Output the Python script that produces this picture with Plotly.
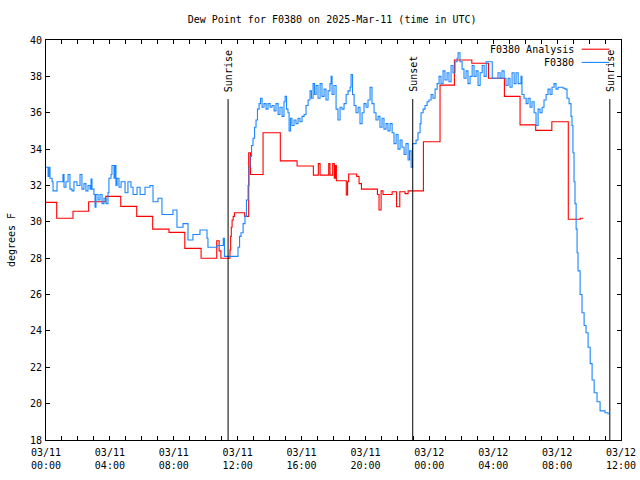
import pandas as pd
import plotly.graph_objects as go

BASE = pd.Timestamp("2025-03-11 00:00")

# ---- data (hours after 2025-03-11 00:00 UTC, dew point in F) ----
analysis_hours = [0, 0.67, 1.69, 2.67, 3.74, 4.68, 5.68, 6.68, 7.7, 8.69, 9.71, 10.69, 10.84, 10.95,
                  11.52, 11.56, 11.6, 11.65, 11.72, 11.8, 12.44, 12.69, 12.8, 13.59, 14.67, 15.72,
                  16.74, 17.05, 17.16, 17.7, 17.78, 17.95, 18.05, 18.12, 18.18, 18.8, 18.88, 18.95,
                  19.45, 19.6, 19.75, 20.75, 20.85, 20.98, 21.1, 21.67, 21.95, 22.15, 22.48, 22.67,
                  23.63, 24.67, 25.57, 26.66, 27.7, 28.7, 29.68, 30.66, 31.67, 32.7, 33.35, 33.45, 33.64]
analysis_values = [31.07, 30.2, 30.58, 31.1, 31.4, 30.85, 30.3, 29.6, 29.42, 28.54, 28.0, 28.96, 28.4, 28.0,
                   28.45, 29.2, 29.7, 30.1, 30.3, 30.5, 30.3, 33.8, 32.6, 34.9, 33.35, 33.07,
                   32.57, 33.2, 32.57, 33.2, 32.57, 33.2, 32.4, 33.1, 32.26, 31.48, 32.2, 32.63,
                   32.5, 32.1, 31.8, 31.5, 30.65, 31.7, 31.5, 31.65, 30.83, 31.65, 31.55, 31.7,
                   34.4, 37.52, 38.9, 38.72, 37.9, 36.9, 35.33, 35.03, 35.5, 30.14, 30.14, 30.2, 30.2]

obs_hours = [0.0, 0.06, 0.13, 0.19, 0.25, 0.38, 0.44, 0.69, 1.0, 1.06, 1.13, 1.25, 1.38, 1.5, 1.63,
             1.75, 1.94, 2.13, 2.25, 2.38, 2.5, 2.63, 2.76, 2.82, 2.88, 3.0, 3.07, 3.13, 3.26, 3.38,
             3.51, 3.63, 3.76, 3.88, 3.94, 4.07, 4.13, 4.26, 4.32, 4.38, 4.45, 4.57, 4.7, 4.95, 5.13,
             5.32, 5.45, 5.7, 5.89, 6.2, 6.51, 6.7, 7.01, 7.26, 7.95, 8.2, 8.58, 8.89, 9.2, 9.64,
             10.08, 10.14, 10.71, 11.1, 11.17, 11.99, 12.02, 12.12, 12.21, 12.34, 12.46, 12.55, 12.65,
             12.71, 12.77, 12.87, 12.96, 13.06, 13.15, 13.24, 13.34, 13.43, 13.53, 13.65, 13.78, 13.9,
             14.03, 14.15, 14.28, 14.4, 14.53, 14.65, 14.78, 14.9, 14.97, 15.06, 15.15, 15.22, 15.31,
             15.4, 15.53, 15.65, 15.78, 15.9, 16.03, 16.16, 16.28, 16.41, 16.53, 16.62, 16.72, 16.81,
             16.91, 17.03, 17.16, 17.28, 17.41, 17.53, 17.66, 17.78, 17.85, 17.91, 18.03, 18.16, 18.28,
             18.41, 18.53, 18.66, 18.79, 18.91, 19.04, 19.1, 19.19, 19.29, 19.41, 19.54, 19.66, 19.79,
             19.91, 20.04, 20.16, 20.29, 20.41, 20.54, 20.66, 20.79, 20.91, 21.04, 21.16, 21.29, 21.41,
             21.54, 21.67, 21.79, 21.92, 22.04, 22.17, 22.29, 22.42, 22.54, 22.67, 22.76, 22.86, 22.95,
             23.04, 23.17, 23.29, 23.42, 23.48, 23.61, 23.73, 23.86, 23.98, 24.11, 24.23, 24.36, 24.49,
             24.61, 24.73, 24.86, 24.98, 25.11, 25.23, 25.36, 25.48, 25.61, 25.74, 25.8, 25.92, 26.05,
             26.17, 26.3, 26.42, 26.55, 26.68, 26.8, 26.93, 27.05, 27.18, 27.31, 27.43, 27.56, 27.81,
             27.94, 28.18, 28.3, 28.43, 28.55, 28.68, 28.8, 28.93, 29.05, 29.18, 29.31, 29.43, 29.56,
             29.68, 29.74, 29.8, 29.93, 30.06, 30.18, 30.31, 30.43, 30.56, 30.68, 30.81, 30.93, 31.06,
             31.18, 31.31, 31.43, 31.56, 31.68, 31.81, 31.93, 32.06, 32.37, 32.5, 32.62, 32.75, 32.87,
             32.93, 32.99, 33.06, 33.12, 33.19, 33.25, 33.31, 33.44, 33.56, 33.69, 33.81, 33.94, 34.07,
             34.19, 34.32, 34.5, 34.69, 35.0, 35.19]
obs_values = [33.0, 33.0, 32.5, 33.0, 32.4, 32.2, 31.7, 32.2, 32.2, 32.6, 31.9, 32.2, 32.6, 31.8, 31.7,
              32.2, 32.0, 32.6, 31.8, 32.1, 31.7, 32.0, 31.8, 32.35, 31.8, 31.5, 30.8, 31.5, 31.2, 31.5,
              31.0, 31.3, 31.0, 31.6, 32.4, 32.6, 33.1, 32.4, 33.1, 32.0, 32.4, 31.9, 32.2, 31.6, 32.2,
              31.9, 31.5, 31.9, 31.5, 31.9, 32.0, 31.1, 31.3, 30.4, 30.65, 29.7, 29.9, 29.0, 29.3, 29.55,
              29.1, 28.6, 28.7, 29.1, 28.1, 28.1, 28.6, 29.2, 29.4, 29.9, 30.3, 31.2, 32.0,
              33.0, 33.6, 34.2, 34.6, 35.2, 35.6, 36.2, 36.5, 36.8, 36.3, 36.5, 36.2, 36.5,
              36.3, 36.4, 36.1, 36.5, 35.9, 36.3, 35.8, 36.6, 36.9, 36.2, 36.0, 35.0, 35.7,
              35.3, 35.6, 35.4, 35.7, 35.5, 35.8, 35.9, 36.4, 36.7, 37.2, 36.8, 37.6, 37.0,
              37.5, 36.8, 37.6, 36.9, 37.3, 36.7, 37.2, 37.6, 38.0, 37.0, 37.5, 36.2, 35.6,
              36.3, 36.2, 36.5, 37.0, 37.2, 37.4, 38.1, 37.0, 36.4, 36.0, 36.3, 35.4, 36.0,
              36.5, 36.3, 36.7, 37.4, 36.5, 36.0, 35.6, 35.8, 35.2, 35.7, 35.1, 35.4, 35.0,
              35.4, 34.9, 34.3, 34.8, 34.0, 34.5, 34.1, 33.7, 34.3, 33.4, 33.9, 33.0, 34.3,
              34.3, 34.5, 34.9, 35.4, 36.0, 36.2, 36.4, 36.6, 36.7, 37.0, 36.8, 37.3, 37.6,
              38.0, 37.6, 38.3, 37.8, 38.2, 37.7, 38.6, 38.2, 38.8, 39.0, 39.3, 38.8, 38.4,
              37.9, 38.3, 37.6, 38.0, 38.6, 38.0, 38.3, 37.5, 38.2, 38.6, 38.0, 38.8, 38.8,
              37.9, 37.9, 38.2, 37.9, 38.3, 37.9, 37.5, 37.9, 37.4, 38.2, 37.6, 38.2, 37.6,
              37.6, 38.0, 37.0, 36.8, 36.5, 36.8, 36.3, 36.6, 36.0, 35.3, 36.2, 36.0, 36.3,
              36.7, 37.0, 37.3, 37.0, 37.4, 37.6, 37.3, 37.4, 37.35, 37.3, 36.8, 36.5, 35.8,
              35.3, 33.8, 32.2, 31.0, 29.6, 28.3, 27.3, 26.0, 25.0, 24.3, 23.9, 23.1, 22.2,
              21.3, 20.6, 20.1, 19.6, 19.5, 19.4]

event_labels = ["Sunrise", "Sunset", "Sunrise"]
event_hours = [11.40, 22.96, 35.30]

tick_hours = [0, 4, 8, 12, 16, 20, 24, 28, 32, 36]
tick_labels = ["03/11<br>00:00", "03/11<br>04:00", "03/11<br>08:00", "03/11<br>12:00",
               "03/11<br>16:00", "03/11<br>20:00", "03/12<br>00:00", "03/12<br>04:00",
               "03/12<br>08:00", "03/12<br>12:00"]

series_names = ["F0380 Analysis", "F0380"]
series_colors = ["#ff0000", "#1a86ff"]


def to_time(hours):
    return [BASE + pd.Timedelta(hours=h) for h in hours]


FONT = "DejaVu Sans Mono"
EVENT_TOP = 36.75
LW = 1.1

fig = go.Figure()
fig.add_trace(go.Scatter(x=to_time(analysis_hours), y=analysis_values, mode="lines",
                         line=dict(color=series_colors[0], width=LW, shape="hv"),
                         name=series_names[0]))
fig.add_trace(go.Scatter(x=to_time(obs_hours), y=obs_values, mode="lines",
                         line=dict(color=series_colors[1], width=LW, shape="hv"),
                         name=series_names[1]))

shapes = []
annotations = []
for lab, h in zip(event_labels, event_hours):
    t = BASE + pd.Timedelta(hours=h)
    shapes.append(dict(type="line", xref="x", yref="y", x0=t, x1=t, y0=18, y1=EVENT_TOP,
                       line=dict(color="black", width=1)))
    annotations.append(dict(x=t, y=EVENT_TOP, xref="x", yref="y", text=lab, showarrow=False,
                            textangle=-90, xanchor="center", yanchor="bottom", yshift=5,
                            font=dict(family=FONT, size=10, color="black")))

# legend drawn gnuplot-style: text then sample line
leg_y = [0.977, 0.944]
for name, col, yy in zip(series_names, series_colors, leg_y):
    annotations.append(dict(x=0.922, y=yy, xref="paper", yref="paper", text=name, showarrow=False,
                            xanchor="right", yanchor="middle",
                            font=dict(family=FONT, size=10, color="black")))
    shapes.append(dict(type="line", xref="paper", yref="paper", x0=0.9317, x1=0.9797, y0=yy, y1=yy,
                       line=dict(color=col, width=LW)))

axis_common = dict(showline=True, linecolor="black", linewidth=1, mirror="allticks",
                   ticks="inside", tickcolor="black", showgrid=False, zeroline=False,
                   automargin=False,
                   tickfont=dict(family=FONT, size=10, color="black"))

fig.update_layout(
    width=640, height=480,
    margin=dict(l=46, r=19, t=40, b=40),
    plot_bgcolor="white", paper_bgcolor="white",
    showlegend=False,
    title=dict(text="Dew Point for F0380 on 2025-Mar-11 (time in UTC)", x=0.519, xanchor="center",
               y=0.96, yanchor="middle", yref="container",
               font=dict(family=FONT, size=10, color="black")),
    xaxis=dict(type="date", range=[BASE, BASE + pd.Timedelta(hours=36)],
               tickmode="array", tickvals=to_time(tick_hours), ticktext=tick_labels,
               ticklen=4, ticklabelstandoff=3,
               minor=dict(tickmode="linear", tick0=BASE, dtick=3600000, ticks="inside",
                          ticklen=4, tickcolor="black", showgrid=False),
               **axis_common),
    yaxis=dict(range=[18, 40], tick0=18, dtick=2, ticklen=4, ticklabelstandoff=1,
               title=dict(text="degrees F", font=dict(family=FONT, size=10, color="black"), standoff=12),
               **axis_common),
    shapes=shapes,
    annotations=annotations,
)

fig.write_html("out.html")
